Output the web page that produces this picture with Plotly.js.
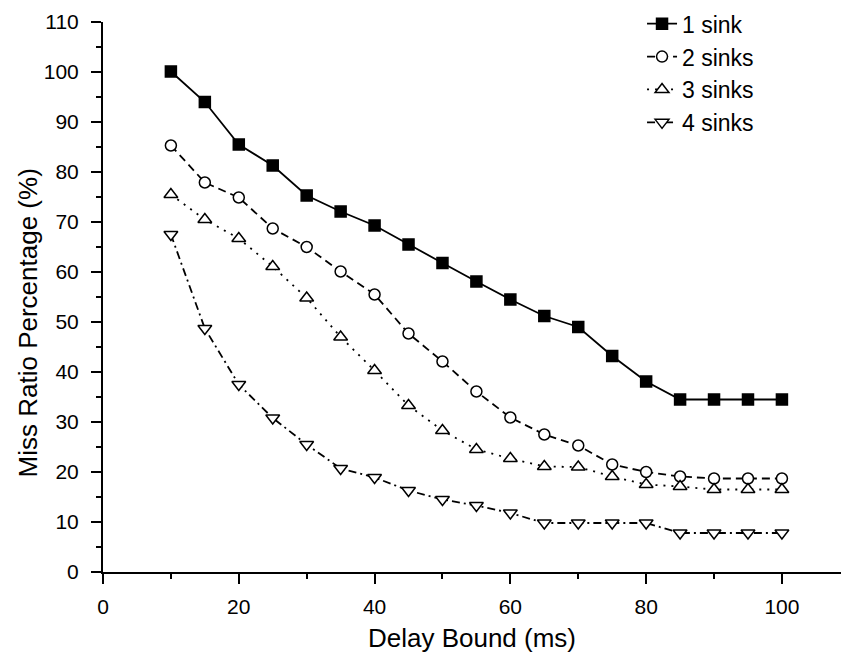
<!DOCTYPE html>
<html>
<head>
<meta charset="utf-8">
<script src="https://cdn.plot.ly/plotly-3.0.1.min.js"></script>
<style>html,body{margin:0;padding:0;background:#fff;}#chart{width:841px;height:654px;}</style>
</head>
<body>
<div id="chart"></div>
<script>
const delayBound = [10, 15, 20, 25, 30, 35, 40, 45, 50, 55, 60, 65, 70, 75, 80, 85, 90, 95, 100];
const sink1 = [100.1, 94.0, 85.5, 81.3, 75.3, 72.1, 69.3, 65.5, 61.8, 58.1, 54.5, 51.2, 49.0, 43.2, 38.1, 34.5, 34.5, 34.5, 34.5];
const sink2 = [85.3, 77.9, 74.9, 68.7, 65.0, 60.1, 55.5, 47.7, 42.1, 36.1, 30.9, 27.5, 25.3, 21.5, 20.0, 19.1, 18.7, 18.7, 18.7];
const sink3 = [75.5, 70.5, 66.7, 61.1, 54.8, 47.0, 40.3, 33.3, 28.3, 24.5, 22.7, 21.1, 21.0, 19.1, 17.5, 17.1, 16.5, 16.5, 16.5];
const sink4 = [67.5, 48.7, 37.5, 30.8, 25.5, 20.7, 18.9, 16.3, 14.5, 13.3, 11.8, 9.8, 9.8, 9.8, 9.8, 7.8, 7.8, 7.8, 7.8];
const seriesNames = ['1 sink', '2 sinks', '3 sinks', '4 sinks'];
const xTickVals = [0, 20, 40, 60, 80, 100];
const yTickVals = [0, 10, 20, 30, 40, 50, 60, 70, 80, 90, 100, 110];
const xTitle = 'Delay Bound (ms)';
const yTitle = 'Miss Ratio Percentage (%)';

const FONT = 'Liberation Sans, Arial, sans-serif';
const styles = [
  {dash: 'solid', symbol: 'square', size: 11, fill: '#000'},
  {dash: '8px,5px', symbol: 'circle', size: 11, fill: '#fff'},
  {dash: '2px,6px', symbol: 'triangle-up', size: 12, fill: '#fff'},
  {dash: '8px,4px,2px,4px', symbol: 'triangle-down', size: 12, fill: '#fff'}
];
const ys = [sink1, sink2, sink3, sink4];
const traces = ys.map((y, i) => ({
  type: 'scatter', mode: 'lines+markers', name: seriesNames[i],
  x: delayBound, y: y,
  line: {color: '#000', width: 1.8, dash: styles[i].dash},
  marker: {symbol: styles[i].symbol, size: styles[i].size, color: styles[i].fill,
           line: {color: '#000', width: 1.5}}
}));

const layout = {
  width: 841, height: 654,
  margin: {l: 103, r: 0, t: 22, b: 82},
  paper_bgcolor: '#fff', plot_bgcolor: '#fff',
  font: {family: FONT, color: '#000', size: 21},
  showlegend: true,
  legend: {x: 0.7304, y: 1.036, xanchor: 'left', yanchor: 'top',
           font: {family: FONT, size: 23, color: '#000'}, bgcolor: 'rgba(0,0,0,0)',
           tracegroupgap: 0},
  xaxis: {
    range: [0, 108.7], showgrid: false, zeroline: false,
    showline: true, linecolor: '#000', linewidth: 2,
    tickmode: 'array', tickvals: xTickVals, ticks: 'outside', ticklen: 10, tickwidth: 2, tickcolor: '#000',
    ticklabelstandoff: 5,
    minor: {dtick: 10, tick0: 0, ticks: 'outside', ticklen: 5, tickwidth: 2, tickcolor: '#000', showgrid: false},
    tickfont: {family: FONT, size: 21, color: '#000'},
    title: {text: xTitle, font: {family: FONT, size: 26, color: '#000'}, standoff: 12}
  },
  yaxis: {
    range: [0, 110], showgrid: false, zeroline: false,
    showline: true, linecolor: '#000', linewidth: 2,
    tickmode: 'array', tickvals: yTickVals, ticks: 'outside', ticklen: 10, tickwidth: 2, tickcolor: '#000',
    ticklabelstandoff: 8,
    minor: {dtick: 5, tick0: 0, ticks: 'outside', ticklen: 5, tickwidth: 2, tickcolor: '#000', showgrid: false},
    tickfont: {family: FONT, size: 21, color: '#000'}
  },
  annotations: [{
    text: yTitle, textangle: -90, showarrow: false,
    xref: 'paper', yref: 'paper', x: -0.1016, y: 0.452, xanchor: 'center', yanchor: 'middle',
    font: {family: FONT, size: 26, color: '#000'}
  }]
};

Plotly.newPlot('chart', traces, layout, {displayModeBar: false, staticPlot: true});
</script>
</body>
</html>
